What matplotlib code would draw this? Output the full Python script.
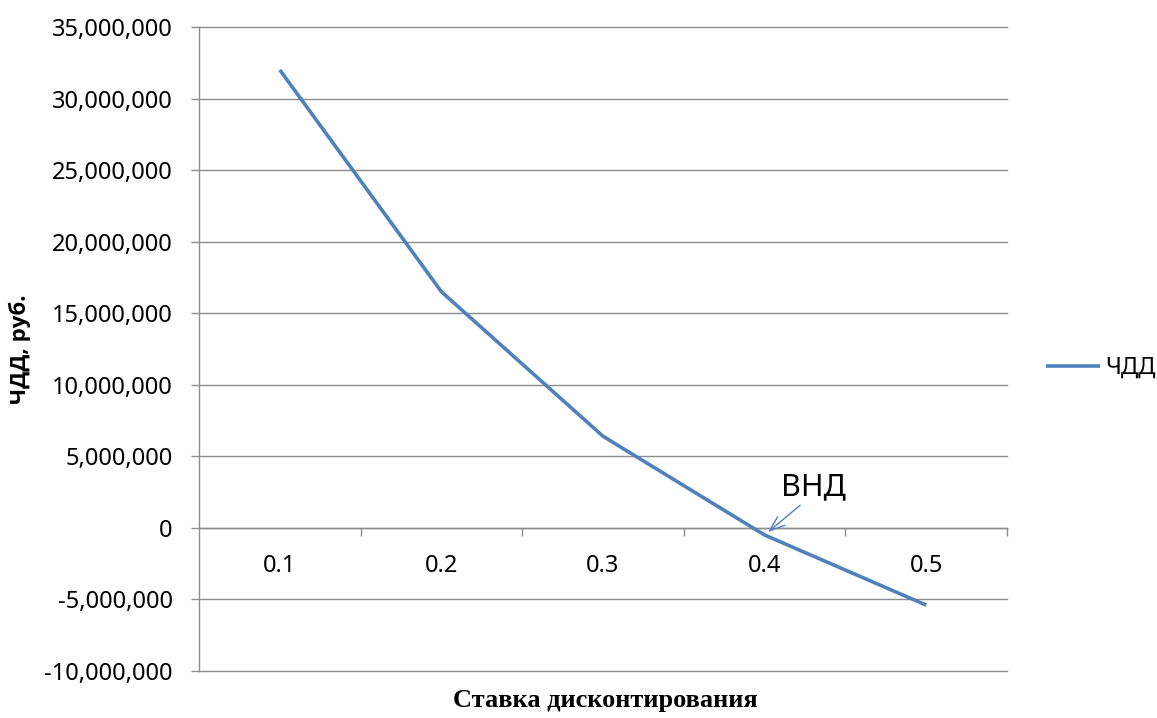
import matplotlib
matplotlib.use("Agg")
import matplotlib.pyplot as plt
from matplotlib.ticker import FixedLocator, FuncFormatter, NullFormatter

# Discount rate categories and net present value (ЧДД) at each rate
rates = ["0.1", "0.2", "0.3", "0.4", "0.5"]
npv = [32_000_000, 16_500_000, 6_400_000, -500_000, -5_400_000]
y_ticks = [-10_000_000, -5_000_000, 0, 5_000_000, 10_000_000, 15_000_000,
           20_000_000, 25_000_000, 30_000_000, 35_000_000]

LINE = "#4F81BD"
GRID = "#8C8C8C"
FONT = "Noto Sans"
BOLD_FONT = "Open Sans"

fig = plt.figure(figsize=(11.57, 7.18), dpi=100)
ax = fig.add_axes([0.172, 0.0655, 0.6984, 0.8969])

x = list(range(len(rates)))
ax.plot(x, npv, color=LINE, lw=2.6, solid_capstyle="butt", label="ЧДД", zorder=3)

ax.set_xlim(-0.5, len(rates) - 0.5)
ax.set_ylim(y_ticks[0], y_ticks[-1])

# Y axis: horizontal gridlines, comma-separated values
ax.set_yticks(y_ticks)
ax.yaxis.set_major_formatter(FuncFormatter(lambda v, p: f"{v:,.0f}"))
ax.grid(axis="y", color=GRID, lw=1.0)
for gl in ax.get_ygridlines():
    gl.set_clip_on(False)
ax.set_axisbelow(True)
ax.tick_params(axis="y", length=6, width=1.0, color=GRID, pad=13,
               labelsize=17, labelcolor="black")
for lab in ax.get_yticklabels():
    lab.set_fontfamily(FONT)

# Category axis drawn along zero: ticks between categories, labels at centres
ax.spines["bottom"].set_position(("data", 0))
ax.xaxis.set_major_locator(FixedLocator([i + 0.5 for i in x]))
ax.xaxis.set_major_formatter(NullFormatter())
ax.xaxis.set_minor_locator(FixedLocator(x))
ax.set_xticks(x, rates, minor=True)
ax.tick_params(axis="x", which="major", length=6, width=1.0, color=GRID)
ax.tick_params(axis="x", which="minor", length=0, pad=19, labelsize=17)
for lab in ax.get_xticklabels(minor=True):
    lab.set_fontfamily(FONT)

for side in ("top", "right"):
    ax.spines[side].set_visible(False)
for side in ("left", "bottom"):
    ax.spines[side].set_color(GRID)
    ax.spines[side].set_linewidth(1.0)

# IRR marker
ax.annotate("", xy=(3.02, -300_000), xytext=(3.22, 1_580_000),
            arrowprops=dict(arrowstyle="->,head_length=1.1,head_width=0.4",
                            color=LINE, lw=1.0, shrinkA=0, shrinkB=0))
ax.text(3.30, 2_850_000, "ВНД", fontsize=22, fontfamily=FONT,
        ha="center", va="center")

# Axis titles
fig.text(20 / 1157, 1 - 349 / 718, "ЧДД, руб.", rotation=90, fontsize=16,
         fontweight="bold", fontfamily=BOLD_FONT, ha="center", va="center")
fig.text(605 / 1157, 1 - 700 / 718, "Ставка дисконтирования", fontsize=19,
         fontweight="bold", fontfamily="Liberation Serif", ha="center",
         va="center")

# Legend to the right of the plot
leg = fig.legend(loc="center left", bbox_to_anchor=(1046 / 1157, 1 - 368 / 718),
                 frameon=False, handlelength=2.3, handletextpad=0.2,
                 borderaxespad=0, borderpad=0, prop={"family": FONT, "size": 17})

fig.savefig("out.png", dpi=100)
